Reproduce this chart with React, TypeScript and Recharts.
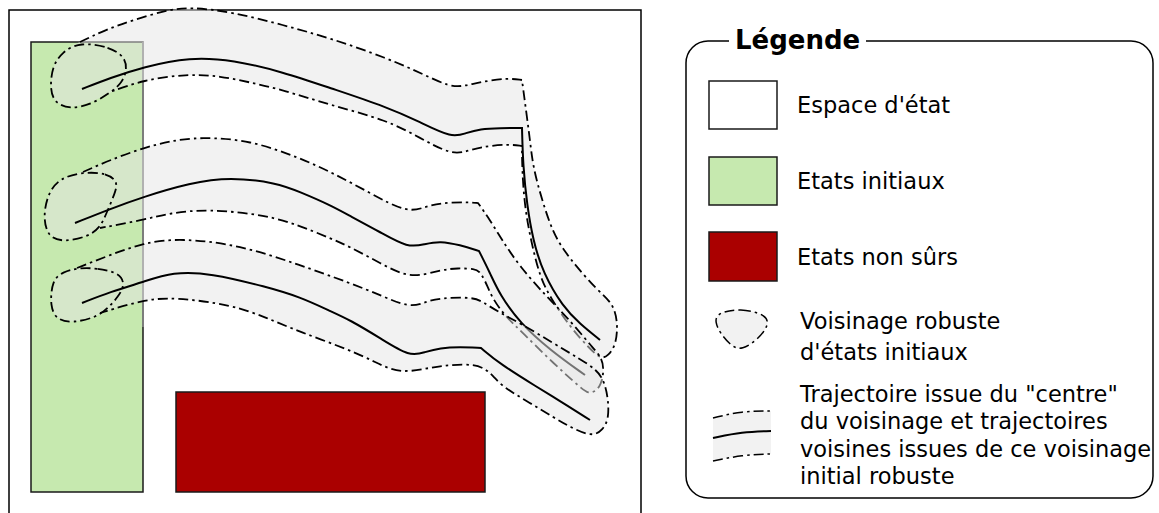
import { ComposedChart, ReferenceArea, Rectangle, Scatter, XAxis, YAxis } from "recharts";

type P = [number, number];

// state space frame and the two regions
const frame: P[] = [[9, 513], [9, 10], [641, 10], [641, 513]];
const initialBox: P[] = [[31, 42], [143, 42], [143, 492], [31, 492]];
const initialEdgeFaded: P[] = [[143, 42], [143, 327]];
const unsafeBox: P[] = [[176, 392], [485, 392], [485, 492], [176, 492]];

// tube 1 (top) - outline, left closing part, centre trajectory, robust neighbourhood
const tube1Edge: P[] = [
  [80, 42], [105, 30], [133, 20], [167, 10], [190, 7], [233, 12], [283, 25], [330, 38], [387, 58], [425, 75],
  [450, 87], [465, 86], [480, 82], [507, 78], [522, 80], [522, 80], [522, 80],
  [526, 110], [530, 140], [533, 167], [542, 200], [553, 233], [565, 252], [577, 267], [597, 290], [613, 303],
  [618, 323], [616, 345], [608, 356], [601, 359],
  [590, 349], [570, 327], [550, 297], [540, 277], [532, 245], [526, 215], [523, 185], [522, 160],
  [522, 146], [522, 146], [522, 146],
  [507, 144], [480, 147], [465, 152], [450, 154], [420, 138], [387, 120], [330, 105], [283, 90], [253, 83],
  [220, 76], [187, 74], [143, 80], [110, 92],
];
const tube1Left: P[] = [[95, 101], [70, 109], [55, 103], [50, 90], [52, 67], [62, 52], [73, 45]];
const tube1Center: P[] = [
  [82, 89], [110, 78], [143, 67], [190, 57], [233, 60], [283, 72], [330, 88], [387, 107], [420, 122], [452, 138],
  [466, 133], [480, 129], [500, 128], [522, 128], [522, 128], [522, 128], [523, 165], [527, 205], [533, 240],
  [543, 273], [563, 307], [580, 324], [600, 340],
];
const blob1: P[] = [
  [80, 42], [110, 47], [125, 57], [127, 70], [122, 83], [110, 93], [90, 105], [70, 109], [55, 103], [50, 90],
  [52, 67], [62, 52],
];

// tube 2 (middle)
const tube2Edge: P[] = [
  [83, 172], [110, 160], [143, 148], [170, 141], [200, 137], [250, 140], [300, 158], [333, 173], [370, 193],
  [407, 213], [425, 207], [440, 203], [467, 202], [478, 203], [478, 203], [478, 203],
  [490, 220], [502, 240], [520, 267], [547, 297], [567, 317], [593, 348], [602, 358], [604, 371], [601, 385],
  [595, 392], [588, 393],
  [583, 390], [553, 363], [523, 333], [505, 316], [492, 298], [485, 280], [479, 271], [475, 269],
  [458, 268], [440, 270], [410, 279], [380, 263], [350, 247], [330, 238], [300, 226], [267, 215], [207, 209],
  [170, 213], [143, 220], [100, 228],
];
const tube2Left: P[] = [[87, 237], [63, 242], [48, 237], [43, 217], [48, 193], [60, 178]];
const tube2Center: P[] = [
  [75, 223], [110, 209], [143, 197], [190, 183], [230, 177], [277, 183], [300, 192], [330, 205], [350, 216],
  [380, 232], [408, 248], [425, 244], [440, 241], [460, 245], [479, 251], [479, 251], [479, 251], [490, 273],
  [500, 295], [520, 323], [550, 350], [585, 375],
];
const blob2: P[] = [
  [83, 172], [107, 173], [118, 182], [115, 193], [107, 212], [100, 228], [87, 237], [63, 242], [48, 237],
  [43, 217], [48, 193], [60, 178],
];

// tube 3 (bottom)
const tube3Edge: P[] = [
  [77, 268], [110, 255], [143, 243], [180, 238], [240, 245], [300, 265], [350, 283], [380, 295], [410, 308],
  [425, 302], [440, 298], [473, 297], [483, 302], [500, 313], [520, 323], [553, 343], [580, 359], [597, 370],
  [604, 381], [608, 397], [609, 418], [603, 430], [592, 437],
  [570, 427], [553, 417], [530, 403], [503, 387], [494, 377], [486, 369], [473, 364], [450, 365], [433, 367],
  [400, 374], [375, 362], [350, 350], [300, 332], [267, 318], [233, 305], [173, 297], [143, 300], [100, 313],
];
const tube3Left: P[] = [[97, 317], [73, 323], [57, 320], [50, 307], [52, 280], [63, 272]];
const tube3Center: P[] = [
  [82, 303], [110, 292], [143, 282], [173, 272], [210, 273], [267, 287], [300, 297], [330, 311], [350, 320],
  [380, 338], [410, 357], [425, 352], [440, 348], [460, 347], [481, 348], [481, 348], [481, 348], [500, 364],
  [537, 387], [560, 401], [590, 420],
];
const blob3: P[] = [
  [77, 268], [97, 268], [120, 273], [125, 285], [118, 297], [108, 308], [97, 317], [73, 323], [57, 320],
  [50, 307], [52, 280], [63, 272],
];

// legend keys
const keySpace: P[] = [[709, 81], [777, 81], [777, 129], [709, 129]];
const keyInit: P[] = [[709, 157], [777, 157], [777, 205], [709, 205]];
const keyUnsafe: P[] = [[709, 232], [777, 232], [777, 281], [709, 281]];
const keyBlob: P[] = [[717, 313], [740, 308], [768, 315], [768, 327], [757, 340], [742, 350], [732, 347], [720, 333], [715, 322]];
const keyTubeUpper: P[] = [[713, 418], [742, 411], [771, 411]];
const keyTubeCenter: P[] = [[713, 438], [742, 432], [771, 431]];
const keyTubeLower: P[] = [[713, 461], [742, 455], [771, 454]];

const keyLabels = ["Espace d'état", "Etats initiaux", "Etats non sûrs"];
const blobLabel = ["Voisinage robuste", "d'états initiaux"];
const tubeLabel = ["Trajectoire issue du \"centre\"", "du voisinage et trajectoires", "voisines issues de ce voisinage", "initial robuste"];

const DASH = "10 4 2.5 4";
const dashDot = { stroke: "#000", strokeWidth: 1.8, strokeDasharray: DASH, fill: "none" };
const solid = { stroke: "#000", strokeWidth: 2, fill: "none" };
const haze = { stroke: "none", fill: "#e6e6e6", fillOpacity: 0.5 };
const box = (fill: string) => ({ stroke: "#1a1a1a", strokeWidth: 1.5, fill });

const pts = (a: P[]) => a.map(([x, y]) => ({ x, y }));
const noDot = () => <g />;

function path(key: string, data: P[], curve: any, style: any) {
  return (
    <Scatter
      key={key}
      data={pts(data)}
      line={style}
      lineJointType={curve}
      shape={noDot}
      legendType="none"
      isAnimationActive={false}
    />
  );
}

function tube(n: string, edge: P[], left: P[], center: P[], blob: P[]) {
  return [
    path(n + "fill", [...edge, ...left], "basisClosed", haze),
    path(n + "edge", edge, "basis", dashDot),
    path(n + "center", center, "basis", solid),
    path(n + "blob", blob, "basisClosed", dashDot),
  ];
}

const font = "'DejaVu Sans', Verdana, sans-serif";
const label = (text: string, baseline: number, x: number) => (
  <div
    key={text}
    style={{ position: "absolute", left: x, top: baseline - 21.3, fontSize: 22.5, lineHeight: "27px", whiteSpace: "nowrap", color: "#000" }}
  >
    {text}
  </div>
);

export default function App() {
  return (
    <div style={{ position: "absolute", left: 0, top: 0, width: 1159, height: 513, fontFamily: font, background: "#fff" }}>
      <ComposedChart width={1159} height={513} margin={{ top: 0, right: 0, bottom: 0, left: 0 }}>
        <XAxis type="number" dataKey="x" domain={[0, 1159]} hide />
        <YAxis type="number" dataKey="y" domain={[0, 513]} reversed hide />
        <ReferenceArea
          x1={686}
          x2={1153}
          y1={41}
          y2={498}
          shape={(p: any) => <Rectangle x={p.x} y={p.y} width={p.width} height={p.height} radius={22} fill="none" stroke="#000" strokeWidth={1.5} />}
        />
        {path("frame", frame, "linear", { stroke: "#000", strokeWidth: 1.5, fill: "none" })}
        {path("init", initialBox, "linearClosed", box("#c6e9af"))}
        {path("initFade", initialEdgeFaded, "linear", { stroke: "#8a8a8a", strokeWidth: 1.6, fill: "none" })}
        {path("unsafe", unsafeBox, "linearClosed", box("#aa0000"))}
        {tube("t1", tube1Edge, tube1Left, tube1Center, blob1)}
        {tube("t2", tube2Edge, tube2Left, tube2Center, blob2)}
        {tube("t3", tube3Edge, tube3Left, tube3Center, blob3)}
        {path("kSpace", keySpace, "linearClosed", box("#fff"))}
        {path("kInit", keyInit, "linearClosed", box("#c6e9af"))}
        {path("kUnsafe", keyUnsafe, "linearClosed", box("#aa0000"))}
        {path("kBlob", keyBlob, "basisClosed", { ...dashDot, strokeWidth: 1.5, fill: "#f2f2f2" })}
        {path("kTubeFill", [...keyTubeUpper, ...[...keyTubeLower].reverse()], "linearClosed", { stroke: "none", fill: "#f2f2f2" })}
        {path("kTubeUp", keyTubeUpper, "basis", { ...dashDot, strokeWidth: 1.5 })}
        {path("kTubeMid", keyTubeCenter, "basis", solid)}
        {path("kTubeLow", keyTubeLower, "basis", { ...dashDot, strokeWidth: 1.5 })}
      </ComposedChart>
      <div
        style={{ position: "absolute", left: 729, top: 25, padding: "0 6px", background: "#fff", fontWeight: "bold", fontSize: 26, lineHeight: "30px", whiteSpace: "nowrap" }}
      >
        Légende
      </div>
      {label(keyLabels[0], 113, 797)}
      {label(keyLabels[1], 189, 797)}
      {label(keyLabels[2], 265, 797)}
      {blobLabel.map((t, i) => label(t, 329 + i * 31, 800))}
      {tubeLabel.map((t, i) => label(t, 402 + i * 27.5, 800))}
    </div>
  );
}
